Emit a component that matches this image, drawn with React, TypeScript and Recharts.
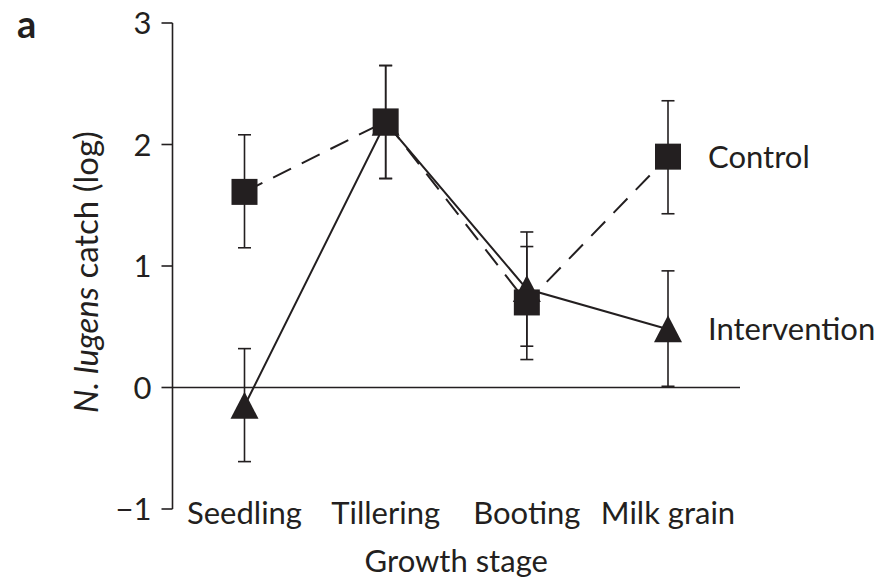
import { ErrorBar, Label, LabelList, Line, LineChart, ReferenceLine, XAxis, YAxis } from "recharts";

const INK = "#231f20";
const FONT = "Lato, 'Open Sans', sans-serif";
const FS = 31;

const stages = ["Seedling", "Tillering", "Booting", "Milk grain"];
const yTicks = [-1, 0, 1, 2, 3];

// log catch per stage, with lower/upper ends of the error bars
const controlMean = [1.61, 2.19, 0.7, 1.9];
const controlLow = [1.15, 1.72, 0.23, 1.43];
const controlHigh = [2.08, 2.65, 1.16, 2.36];

const interventionMean = [-0.15, 2.18, 0.81, 0.48];
const interventionLow = [-0.61, 1.72, 0.34, 0.01];
const interventionHigh = [0.32, 2.65, 1.28, 0.96];

const data = stages.map((stage, i) => ({
  stage,
  control: controlMean[i],
  controlErr: [controlMean[i] - controlLow[i], controlHigh[i] - controlMean[i]],
  intervention: interventionMean[i],
  interventionErr: [interventionMean[i] - interventionLow[i], interventionHigh[i] - interventionMean[i]],
}));

const SquareDot = (p: any) => (
  <rect key={`sq-${p.index}`} x={p.cx - 13} y={p.cy - 13} width={26} height={26} fill={INK} />
);

const TriangleDot = (p: any) => (
  <path
    key={`tri-${p.index}`}
    d={`M${p.cx},${p.cy - 14} L${p.cx + 14},${p.cy + 13} L${p.cx - 14},${p.cy + 13} Z`}
    fill={INK}
  />
);

// series name written beside the last point
const endLabel = (name: string) => (p: any) =>
  p.index === stages.length - 1 ? (
    <text x={p.x + 40} y={p.y} dy="0.35em" fill={INK} fontSize={FS} fontFamily={FONT}>
      {name}
    </text>
  ) : null;

const StageTick = (p: any) => (
  <text x={p.x} y={p.y} dy={7} textAnchor="middle" fill={INK} fontSize={FS} fontFamily={FONT}>
    {p.payload.value}
  </text>
);

const YTitle = (p: any) => {
  const vb = p.viewBox;
  const cx = 98;
  const cy = vb.y + vb.height / 2 + 6;
  return (
    <text
      x={cx}
      y={cy}
      transform={`rotate(-90, ${cx}, ${cy})`}
      textAnchor="middle"
      fill={INK}
      fontSize={33}
      fontFamily={FONT}
    >
      <tspan fontStyle="italic">N. lugens</tspan> catch (log)
    </text>
  );
};

export default function App() {
  return (
    <div style={{ position: "absolute", left: 0, top: 0, width: 882, height: 580, background: "#fff" }}>
      <div
        style={{
          position: "absolute",
          left: 17,
          top: 4,
          lineHeight: "38px",
          fontFamily: FONT,
          fontWeight: 700,
          fontSize: 38,
          color: INK,
        }}
      >
        a
      </div>
      <LineChart width={882} height={580} data={data} margin={{ top: 23, right: 142, bottom: 0, left: 0 }}>
        <XAxis
          dataKey="stage"
          axisLine={false}
          tickLine={false}
          tick={StageTick}
          height={71}
          padding={{ left: 72, right: 72 }}
          interval={0}
        >
          <Label value="Growth stage" position="insideBottom" offset={8} fill={INK} fontSize={FS} fontFamily={FONT} />
        </XAxis>
        <YAxis
          domain={[-1, 3]}
          ticks={yTicks}
          width={172.5}
          tickSize={11}
          tickMargin={10}
          axisLine={{ stroke: INK, strokeWidth: 1.6 }}
          tickLine={{ stroke: INK, strokeWidth: 1.6 }}
          tick={{ fill: INK, fontSize: FS, fontFamily: FONT }}
          tickFormatter={(v: number) => (v < 0 ? `\u2212${-v}` : `${v}`)}
        >
          <Label content={YTitle} />
        </YAxis>
        <ReferenceLine y={0} stroke={INK} strokeWidth={1.6} />
        <Line
          dataKey="intervention"
          stroke={INK}
          strokeWidth={2}
          dot={TriangleDot}
          activeDot={false}
          isAnimationActive={false}
        >
          <ErrorBar dataKey="interventionErr" width={6.5} stroke={INK} strokeWidth={1.6} />
          <LabelList dataKey="intervention" content={endLabel("Intervention")} />
        </Line>
        <Line
          dataKey="control"
          stroke={INK}
          strokeWidth={2}
          strokeDasharray="20 12"
          dot={SquareDot}
          activeDot={false}
          isAnimationActive={false}
        >
          <ErrorBar dataKey="controlErr" width={6.5} stroke={INK} strokeWidth={1.6} />
          <LabelList dataKey="control" content={endLabel("Control")} />
        </Line>
      </LineChart>
    </div>
  );
}
